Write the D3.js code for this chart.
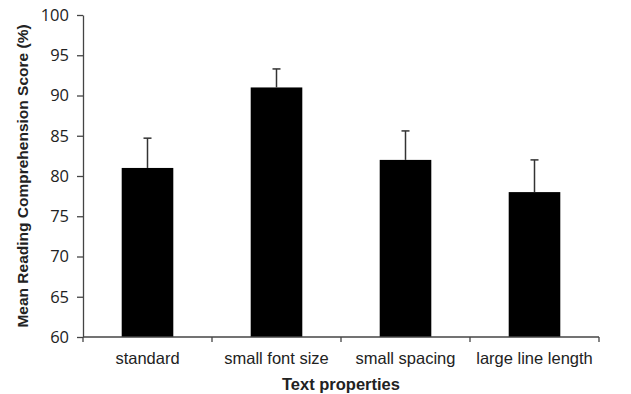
<!DOCTYPE html>
<html>
<head>
<meta charset="utf-8">
<script src="https://cdn.jsdelivr.net/npm/d3@7"></script>
<style>
  body { margin: 0; background: #fff; }
  text { font-family: "Liberation Sans", Arial, sans-serif; fill: #222; }
</style>
</head>
<body>
<div id="chart"></div>
<script>
// data
const categories = ["standard", "small font size", "small spacing", "large line length"];
const means = [81, 91, 82, 78];
const errorTops = [84.7, 93.3, 85.6, 82.0];
const yTicks = [60, 65, 70, 75, 80, 85, 90, 95, 100];

const W = 631, H = 394;
const margin = {top: 15, right: 32, bottom: 57, left: 83},
  width = W - margin.left - margin.right,
  height = H - margin.top - margin.bottom;

let svg = d3.select("#chart")
  .append("svg")
  .attr("width", W)
  .attr("height", H)
  .append("g")
  .attr("transform", `translate(${margin.left},${margin.top})`);

let x = d3.scaleBand()
  .domain(categories)
  .range([0, width])
  .paddingInner(0.6)
  .paddingOuter(0.3);

let y = d3.scaleLinear()
  .domain([60, 100])
  .range([height, 0]);

// bars
svg.selectAll("rect.bar")
  .data(categories)
  .enter()
  .append("rect")
    .attr("class", "bar")
    .attr("x", d => x(d))
    .attr("y", (d, i) => y(means[i]))
    .attr("width", x.bandwidth())
    .attr("height", (d, i) => height - y(means[i]))
    .attr("fill", "#000");

// error bars (upper only)
let err = svg.selectAll("g.err")
  .data(categories)
  .enter()
  .append("g")
    .attr("class", "err")
    .attr("stroke", "#333")
    .attr("stroke-width", 1.5);
err.append("line")
  .attr("x1", d => x(d) + x.bandwidth() / 2)
  .attr("x2", d => x(d) + x.bandwidth() / 2)
  .attr("y1", (d, i) => y(means[i]))
  .attr("y2", (d, i) => y(errorTops[i]));
err.append("line")
  .attr("x1", d => x(d) + x.bandwidth() / 2 - 4)
  .attr("x2", d => x(d) + x.bandwidth() / 2 + 4)
  .attr("y1", (d, i) => y(errorTops[i]))
  .attr("y2", (d, i) => y(errorTops[i]));

// y axis
let yAxis = svg.append("g")
  .call(d3.axisLeft(y).tickValues(yTicks).tickSize(6).tickSizeOuter(0).tickPadding(8));
yAxis.select(".domain").attr("stroke", "#444").attr("stroke-width", 1.3);
yAxis.selectAll(".tick line").attr("stroke", "#444").attr("stroke-width", 1.3);
yAxis.selectAll("text")
  .style("font-family", "'Open Sans', 'Liberation Sans', sans-serif")
  .style("font-size", "16.5px")
  .attr("fill", "#222");

// x axis: ticks at band boundaries
let xAxis = svg.append("g")
  .attr("transform", `translate(0,${height})`);
xAxis.append("line")
  .attr("x1", 0).attr("x2", width)
  .attr("stroke", "#444").attr("stroke-width", 1.3);
let bounds = [0].concat(categories.map(d => x(d) + x.bandwidth() + x.step() * 0.3));
xAxis.selectAll("line.tk")
  .data(bounds)
  .enter()
  .append("line")
    .attr("class", "tk")
    .attr("x1", d => d).attr("x2", d => d)
    .attr("y1", 0).attr("y2", 5)
    .attr("stroke", "#444").attr("stroke-width", 1.3);
xAxis.selectAll("text.cat")
  .data(categories)
  .enter()
  .append("text")
    .attr("class", "cat")
    .attr("x", d => x(d) + x.bandwidth() / 2)
    .attr("y", 27)
    .attr("text-anchor", "middle")
    .style("font-size", "16.5px")
    .text(d => d);

// axis titles
svg.append("text")
  .attr("x", width / 2)
  .attr("y", height + 53)
  .attr("text-anchor", "middle")
  .style("font-size", "16.5px")
  .style("font-weight", "bold")
  .text("Text properties");

svg.append("text")
  .attr("transform", `translate(${-margin.left + 28},${height / 2}) rotate(-90)`)
  .attr("text-anchor", "middle")
  .style("font-size", "15.5px")
  .style("font-weight", "bold")
  .text("Mean Reading Comprehension Score (%)");
</script>
</body>
</html>
